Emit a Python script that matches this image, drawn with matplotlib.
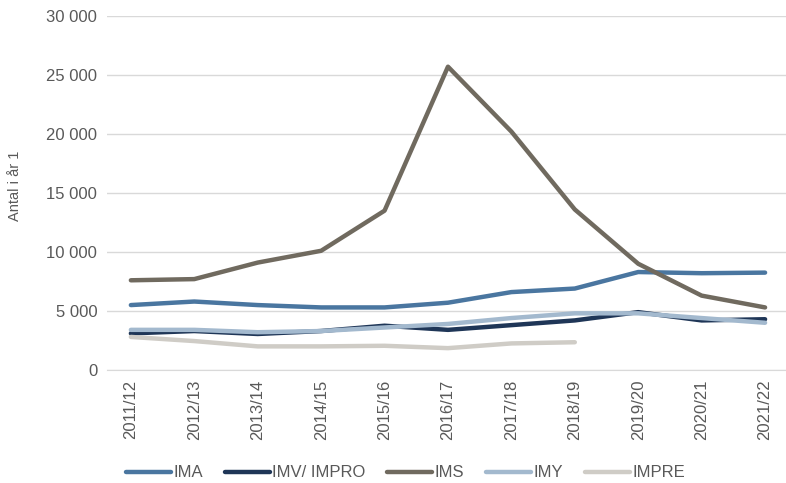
import numpy as np
import matplotlib.pyplot as plt
from matplotlib.ticker import FuncFormatter

plt.rcParams['font.family'] = ['Liberation Sans', 'DejaVu Sans']

years = ['2011/12', '2012/13', '2013/14', '2014/15', '2015/16', '2016/17',
         '2017/18', '2018/19', '2019/20', '2020/21', '2021/22']

ima = [5500, 5800, 5500, 5300, 5300, 5700, 6600, 6900, 8300, 8200, 8250]
imv = [3100, 3300, 3050, 3300, 3750, 3400, 3800, 4200, 4900, 4200, 4300]
ims = [7600, 7700, 9100, 10100, 13500, 25700, 20200, 13600, 9000, 6300, 5300]
imy = [3400, 3400, 3200, 3300, 3600, 3900, 4400, 4800, 4800, 4400, 4000]
impre = [2800, 2450, 2000, 2000, 2050, 1850, 2250, 2350]

series = [('IMA', ima, '#4a76a0'),
          ('IMV/ IMPRO', imv, '#1f3657'),
          ('IMS', ims, '#706a5f'),
          ('IMY', imy, '#a3b9ce'),
          ('IMPRE', impre, '#cfccc6')]

fig = plt.figure(figsize=(7.86, 4.83), dpi=100)
ax = fig.add_axes([0.136, 0.234, 0.864, 0.733])

for name, vals, col in series:
    ax.plot(np.arange(len(vals)), vals, color=col, lw=3.2, label=name,
            solid_capstyle='round', solid_joinstyle='round')

ax.set_ylim(0, 30000)
ax.set_yticks(np.arange(0, 30001, 5000))
ax.yaxis.set_major_formatter(FuncFormatter(lambda v, p: f'{int(v):,}'.replace(',', ' ')))
ax.set_xlim(-0.378, 10.33)
ax.set_xticks(np.arange(len(years)))
ax.set_xticklabels(years, rotation=90)

ax.grid(axis='y', color='#d9d9d9', lw=1)
ax.set_axisbelow(True)
for s in ['top', 'right', 'left']:
    ax.spines[s].set_visible(False)
ax.spines['bottom'].set_color('#d9d9d9')
ax.tick_params(axis='both', length=0, labelsize=12, colors='#595959', pad=7)
ax.set_ylabel('Antal i år 1', fontsize=10.5, color='#595959')
ax.yaxis.set_label_coords(-0.125, 0.52)

fig.legend(loc='center', bbox_to_anchor=(0.516, 0.021), ncol=5, frameon=False,
           fontsize=12, labelcolor='#595959', handlelength=2.7, handletextpad=0.15,
           columnspacing=1.3)

fig.savefig('out.png', dpi=100)
